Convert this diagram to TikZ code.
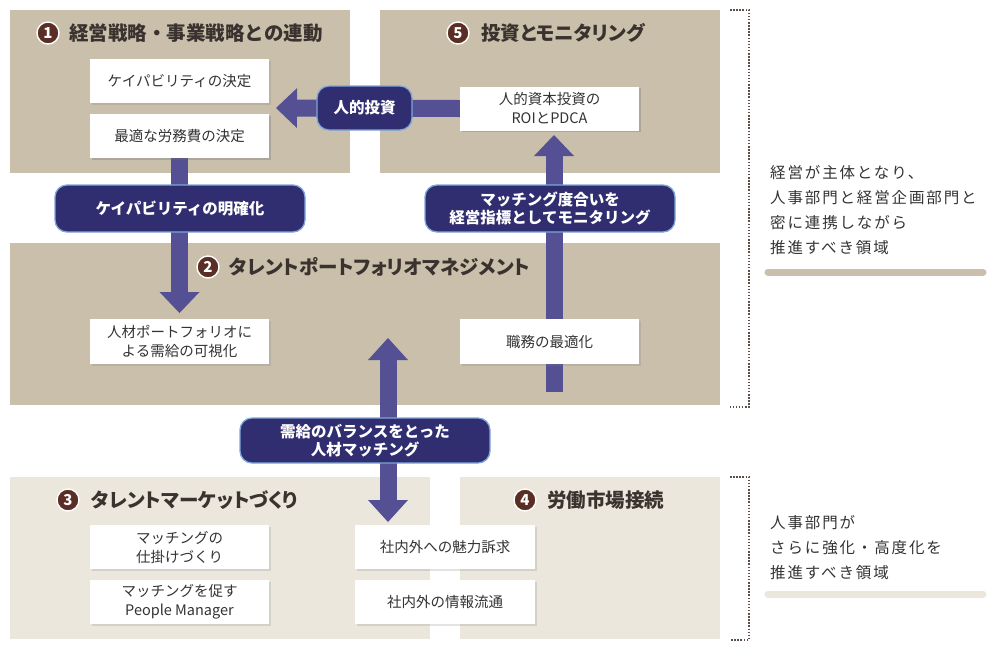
\documentclass[tikz,border=0pt]{standalone}
\usepackage{fontspec}
\setmainfont{Noto Sans CJK JP}
\usetikzlibrary{arrows.meta,shadows,calc}
\definecolor{boxD}{HTML}{C9BFAB}
\definecolor{boxL}{HTML}{EBE7DD}
\definecolor{navy}{HTML}{302E70}
\definecolor{pillline}{HTML}{7FA6D8}
\definecolor{arrowc}{HTML}{545093}
\definecolor{brownc}{HTML}{5A2E24}
\definecolor{titlec}{HTML}{3A322E}
\definecolor{labelc}{HTML}{333333}
\definecolor{dotc}{HTML}{5E5049}
\tikzset{
  areaD/.style={fill=boxD, draw=none, inner sep=0pt},
  areaL/.style={fill=boxL, draw=none, inner sep=0pt},
  wbox/.style={fill=white, draw=none, minimum width=179pt, minimum height=44pt, inner sep=0pt,
    align=center, text=labelc, font=\fontsize{14.5}{19}\selectfont,
    drop shadow={opacity=0.22, shadow xshift=1.5pt, shadow yshift=-1.5pt}},
  pill/.style={fill=navy, draw=pillline, line width=1.3pt, rounded corners=12pt, inner sep=0pt,
    align=center, text=white, font=\fontsize{15.5}{18.5}\selectfont\bfseries},
  numc/.style={circle, fill=brownc, draw=white, line width=1.4pt, minimum size=22pt, inner sep=0pt,
    text=white, font=\fontsize{15}{15}\selectfont\bfseries},
  ttl/.style={anchor=west, inner sep=0pt, text=titlec,
    font=\fontsize{19.5}{22}\selectfont\bfseries\addfontfeature{RawFeature=+palt}},
  ttlfull/.style={anchor=west, inner sep=0pt, text=titlec,
    font=\fontsize{19.5}{22}\selectfont\bfseries},
  bigarrow/.style={draw=arrowc, line width=17pt,
    -{Triangle[width=40pt,length=21pt,line width=0pt]}},
  bigarrow2/.style={draw=arrowc, line width=17pt,
    {Triangle[width=40pt,length=22pt,line width=0pt]}-{Triangle[width=40pt,length=22pt,line width=0pt]}},
  sidetext/.style={anchor=west, inner sep=0pt, align=left, text=labelc,
    font=\fontsize{15.5}{25}\selectfont\addfontfeature{LetterSpace=12}},
  dotln/.style={draw=dotc, line width=1.5pt, dash pattern=on 1.5pt off 1.6pt},
  barD/.style={draw=boxD, line width=7pt, line cap=round},
  barL/.style={draw=boxL, line width=7pt, line cap=round}
}
\begin{document}
\begin{tikzpicture}[x=1pt,y=-1pt]
\useasboundingbox (0,0) rectangle (1000,649);
% areas
\node[areaD, minimum width=340pt, minimum height=163pt] (b1) at (180,91.5) {};
\node[areaD, minimum width=340pt, minimum height=163pt] (b5) at (550,91.5) {};
\node[areaD, minimum width=710pt, minimum height=162pt] (b2) at (365,324) {};
\node[areaL, minimum width=420pt, minimum height=162pt] (b3) at (220,558) {};
\node[areaL, minimum width=260pt, minimum height=162pt] (b4) at (590,558) {};
% titles
\node[numc] (n1) at (48,33) {1};
\node[ttlfull] (t1) at ($(n1.center)+(21,0)$) {経営戦略・事業戦略との連動};
\node[numc] (n5) at (458,33) {5};
\node[ttl] (t5) at ($(n5.center)+(23,0)$) {投資とモニタリング};
\node[numc] (n2) at (208,267) {2};
\node[ttl] (t2) at ($(n2.center)+(21,0)$) {タレントポートフォリオマネジメント};
\node[numc] (n3) at (68,500) {3};
\node[ttl] (t3) at ($(n3.center)+(23,0)$) {タレントマーケットづくり};
\node[numc] (n4) at (525,500) {4};
\node[ttl] (t4) at ($(n4.center)+(22,0)$) {労働市場接続};
% end coordinates of arrows
\coordinate (tipL) at (276,108);
\coordinate (tipV1) at (179.5,313);
\coordinate (jobsBot) at (554,392);
\coordinate (tipV2) at (554,135);
\coordinate (midTop) at (388,338);
\coordinate (midBot) at (388,522);
% white boxes (nodes defined before arrows for anchors)
\node[wbox] (roi) at (549.5,108.5) {人的資本投資の\\ROIとPDCA};
\node[wbox] (cost) at (179.5,136) {最適な労務費の決定};
% arrows
\draw[bigarrow] (roi.west) -- (tipL);
\draw[bigarrow] (cost.south) -- (tipV1);
\draw[bigarrow] (jobsBot) -- (tipV2);
\draw[bigarrow2] (midTop) -- (midBot);
% white boxes on top
\node[wbox] (cap) at (179.5,81) {ケイパビリティの決定};
\node[wbox] at (roi) {人的資本投資の\\ROIとPDCA};
\node[wbox] at (cost) {最適な労務費の決定};
\node[wbox, minimum height=45pt] (vis) at (179.5,341.5) {人材ポートフォリオに\\よる需給の可視化};
\node[wbox, minimum height=45pt] (jobs) at (549.5,341.5) {職務の最適化};
\node[wbox] (mech) at (179.5,547) {マッチングの\\仕掛けづくり};
\node[wbox] (pm) at (179.5,602) {マッチングを促す\\People Manager};
\node[wbox, minimum width=180pt] (appeal) at (445,547) {社内外への魅力訴求};
\node[wbox, minimum width=180pt] (info) at (445,602) {社内外の情報流通};
% pills
\node[pill, minimum width=95pt, minimum height=44pt] (p1) at (364.5,108) {人的投資};
\node[pill, minimum width=250pt, minimum height=47pt] (p2) at (180,208.5) {ケイパビリティの明確化};
\node[pill, minimum width=250pt, minimum height=47pt] (p3) at (550,208.5) {マッチング度合いを\\経営指標としてモニタリング};
\node[pill, minimum width=250pt, minimum height=45pt] (p4) at (365,440.5) {需給のバランスをとった\\人材マッチング};
% right side
\draw[dotln] (730,10) -- (749,10) -- (749,407) -- (730,407);
\draw[dotln] (730,477) -- (749,477) -- (749,640) -- (730,640);
\node[sidetext] (s1) at (770,210) {経営が主体となり、\\人事部門と経営企画部門と\\密に連携しながら\\推進すべき領域};
\node[sidetext] (s2) at (770,548) {人事部門が\\さらに強化・高度化を\\推進すべき領域};
\draw[barD] (768,272) -- (983,272);
\draw[barL] (768,594) -- (983,594);
\end{tikzpicture}
\end{document}
